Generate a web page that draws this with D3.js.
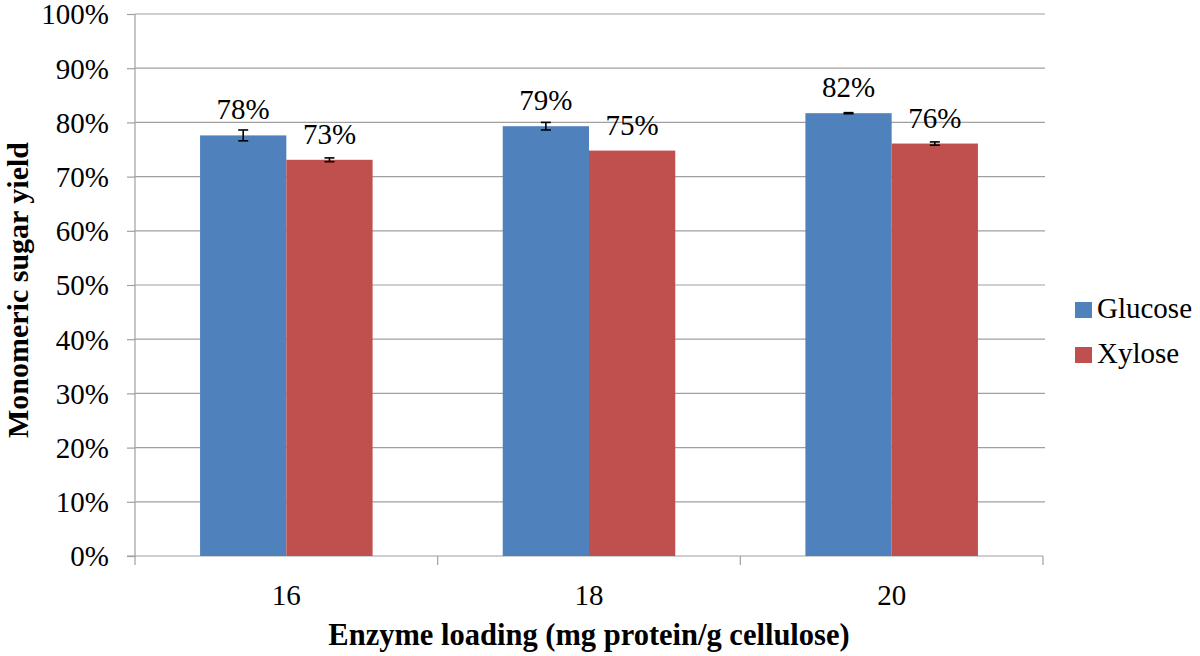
<!DOCTYPE html>
<html>
<head>
<meta charset="utf-8">
<script src="https://cdn.jsdelivr.net/npm/d3@7"></script>
<style>
  html, body { margin: 0; padding: 0; background: #fff; }
  svg { display: block; }
</style>
</head>
<body>
<svg id="chart" width="1200" height="656"></svg>
<script>
const categories = ["16", "18", "20"];
const seriesNames = ["Glucose", "Xylose"];
const glucose = [77.6, 79.3, 81.7];
const xylose = [73.1, 74.8, 76.1];
const glucoseErr = [1.0, 0.7, 0.1];
const xyloseErr = [0.35, 0.0, 0.3];
const dataLabels = [["78%", "79%", "82%"], ["73%", "75%", "76%"]];
const yTicks = [0, 10, 20, 30, 40, 50, 60, 70, 80, 90, 100];
const colors = ["#4F81BD", "#C0504D"];
const xTitle = "Enzyme loading (mg protein/g cellulose)";
const yTitle = "Monomeric sugar yield";

const FONT = "'Liberation Serif', 'Times New Roman', Tinos, serif";
const svg = d3.select("#chart");
const pLeft = 135, pRight = 1043, pTop = 14, pBottom = 556;

const x = d3.scaleBand().domain(categories).range([pLeft, pRight]).paddingInner(0.43).paddingOuter(0.215);
const xs = d3.scaleBand().domain(seriesNames).range([0, x.bandwidth()]);
const y = d3.scaleLinear().domain([0, 100]).range([pBottom, pTop]);

// gridlines
svg.append("g").selectAll("line").data(yTicks.filter(d => d > 0)).join("line")
  .attr("x1", pLeft).attr("x2", pRight + 2)
  .attr("y1", d => y(d)).attr("y2", d => y(d))
  .attr("stroke", "#a0a0a0").attr("stroke-width", 1.2);

// y axis
const yAxis = d3.axisLeft(y).tickValues(yTicks).tickFormat(d => d + "%").tickSize(8).tickPadding(18);
const gy = svg.append("g").attr("transform", `translate(${pLeft},0)`).call(yAxis);
gy.attr("font-family", null).attr("font-size", null);
gy.select(".domain").attr("stroke", "#a0a0a0").attr("stroke-width", 1.2).attr("d", `M-8,${y(0)}H0V${y(100)}`);
gy.selectAll(".tick line").attr("stroke", "#a0a0a0").attr("stroke-width", 1.2);
gy.selectAll(".tick text").style("font-size", "29px").style("font-family", FONT).attr("fill", "#000").attr("dy", "0.34em");

// x axis
const gx = svg.append("g").attr("transform", `translate(0,${pBottom})`);
gx.append("line").attr("x1", pLeft).attr("x2", pRight).attr("y1", 0).attr("y2", 0)
  .attr("stroke", "#a0a0a0").attr("stroke-width", 1.2);
const step = x.step();
const boundaries = [pLeft].concat(categories.map(c => x(c) + x.bandwidth() + x.paddingInner() * step / 2));
boundaries[boundaries.length - 1] = pRight;
gx.selectAll("line.tk").data(boundaries).join("line").attr("class", "tk")
  .attr("x1", d => d).attr("x2", d => d).attr("y1", 0).attr("y2", 9)
  .attr("stroke", "#a0a0a0").attr("stroke-width", 1.2);
gx.selectAll("text").data(categories).join("text")
  .attr("x", d => x(d) + x.bandwidth() / 2).attr("y", 49)
  .attr("text-anchor", "middle").style("font-size", "29px").style("font-family", FONT).text(d => d);

// bars
const series = [glucose, xylose];
const errs = [glucoseErr, xyloseErr];
series.forEach((vals, si) => {
  const g = svg.append("g");
  g.selectAll("rect").data(vals).join("rect")
    .attr("x", (d, i) => x(categories[i]) + xs(seriesNames[si]))
    .attr("width", xs.bandwidth())
    .attr("y", d => y(d))
    .attr("height", d => y(0) - y(d))
    .attr("fill", colors[si]);
  const eg = svg.append("g").attr("stroke", "#000").attr("stroke-width", 1.6);
  vals.forEach((v, i) => {
    const e = errs[si][i];
    if (e <= 0) return;
    const cx = x(categories[i]) + xs(seriesNames[si]) + xs.bandwidth() / 2;
    eg.append("line").attr("x1", cx).attr("x2", cx).attr("y1", y(v + e)).attr("y2", y(v - e));
    eg.append("line").attr("x1", cx - 5).attr("x2", cx + 5).attr("y1", y(v + e)).attr("y2", y(v + e));
    eg.append("line").attr("x1", cx - 5).attr("x2", cx + 5).attr("y1", y(v - e)).attr("y2", y(v - e));
  });
  svg.append("g").selectAll("text").data(vals).join("text")
    .attr("x", (d, i) => x(categories[i]) + xs(seriesNames[si]) + xs.bandwidth() / 2)
    .attr("y", d => y(d) - 16)
    .attr("text-anchor", "middle").style("font-size", "29px").style("font-family", FONT)
    .text((d, i) => dataLabels[si][i]);
});

// legend
const lg = svg.append("g").attr("transform", "translate(1075,302)");
seriesNames.forEach((s, i) => {
  lg.append("rect").attr("x", 0).attr("y", i * 45).attr("width", 17).attr("height", 16).attr("fill", colors[i]);
  lg.append("text").attr("x", 22).attr("y", i * 45 + 16).style("font-size", "29px").style("font-family", FONT).text(s);
});

// axis titles
svg.append("text").attr("x", 589).attr("y", 645).attr("text-anchor", "middle")
  .style("font-size", "30.5px").style("font-weight", "bold").style("font-family", FONT).text(xTitle);
svg.append("text").attr("transform", "translate(28,290) rotate(-90)").attr("text-anchor", "middle")
  .style("font-size", "30px").style("font-weight", "bold").style("font-family", FONT).text(yTitle);
</script>
</body>
</html>
